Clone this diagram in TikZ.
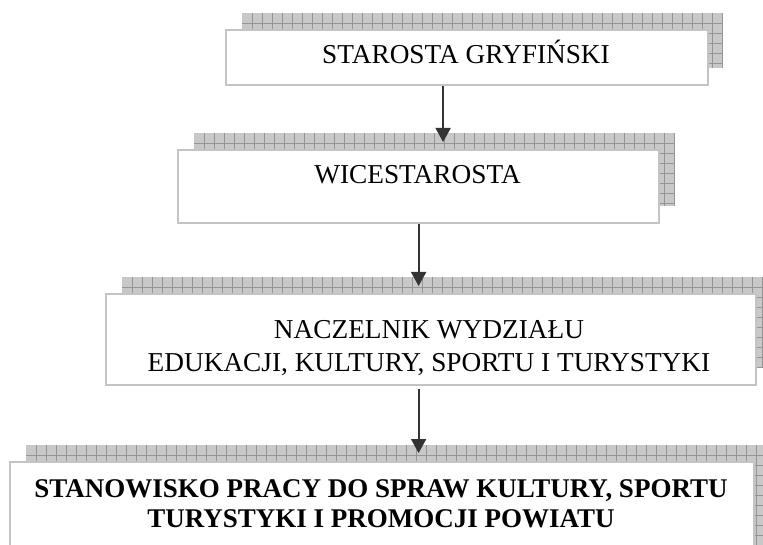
\documentclass[tikz,border=0pt]{standalone}
\usepackage{fontspec}
\setmainfont{Liberation Serif}
\usetikzlibrary{arrows.meta}
\definecolor{boxgray}{HTML}{C4C4C4}
\definecolor{shfillc}{HTML}{C8C8C8}
\definecolor{shgridc}{HTML}{959595}
\definecolor{arrc}{HTML}{333333}
\tikzset{
  orgbox/.style={draw=boxgray, line width=2.2pt, fill=white, inner sep=0pt, anchor=north west},
  txt/.style={inner sep=0pt, anchor=base, font=\fontsize{27.3}{30}\selectfont},
  btxt/.style={txt, font=\fontsize{27}{30}\selectfont\bfseries},
  arr/.style={draw=arrc, line width=1.8pt, -{Triangle[width=15pt,length=14pt]}},
  shfill/.style={fill=shfillc},
  shgrid/.style={draw=shgridc, line width=0.8pt}
}
\newcommand\hshadow[4]{%
  \begin{scope}
    \fill[shfill] (#1,#2) rectangle (#3,#4);
    \clip (#1,#2) rectangle (#3,#4);
    \draw[shgrid] foreach \k in {1,...,80} {(#1+10*\k,#2) -- (#1+10*\k,#4)}
                  foreach \k in {1,...,16} {(#1,#2+10*\k) -- (#3,#2+10*\k)};
  \end{scope}}
\begin{document}
\begin{tikzpicture}[x=1pt,y=-1pt]
\useasboundingbox (0,0) rectangle (763,545);
\clip (0,0) rectangle (763,545);
% hatched shadows
\hshadow{242}{13}{723}{68}
\hshadow{194}{133}{675}{206}
\hshadow{122}{277}{772}{368}
\hshadow{26}{445}{772}{600}
% boxes
\node[orgbox, minimum width=482pt, minimum height=55pt] (b1) at (225,29) {};
\node[orgbox, minimum width=481pt, minimum height=73pt] (b2) at (177,149) {};
\node[orgbox, minimum width=650pt, minimum height=91pt] (b3) at (105,293) {};
\node[orgbox, minimum width=744pt, minimum height=130pt] (b4) at (9,461) {};
% texts
\node[txt] (t1) at (466,64) {STAROSTA GRYFIŃSKI};
\node[txt] (t2) at (417.5,184) {WICESTAROSTA};
\node[txt] (t3a) at (429,338) {NACZELNIK WYDZIAŁU};
\node[txt] (t3b) at (429,371) {EDUKACJI, KULTURY, SPORTU I TURYSTYKI};
\node[btxt] (t4a) at (381,497) {STANOWISKO PRACY DO SPRAW KULTURY, SPORTU};
\node[btxt] (t4b) at (381,527) {TURYSTYKI I PROMOCJI POWIATU};
% connectors
\coordinate (a1) at ([xshift=-24pt]b1.south);
\draw[arr] (a1) -- ([yshift=7pt]a1 |- b2.north);
\draw[arr] (b2.south) -- ([yshift=7pt]b2.south |- b3.north);
\draw[arr] ([yshift=-3pt]b3.south -| b2.south) -- ([yshift=8pt]b2.south |- b4.north);
\end{tikzpicture}
\end{document}
